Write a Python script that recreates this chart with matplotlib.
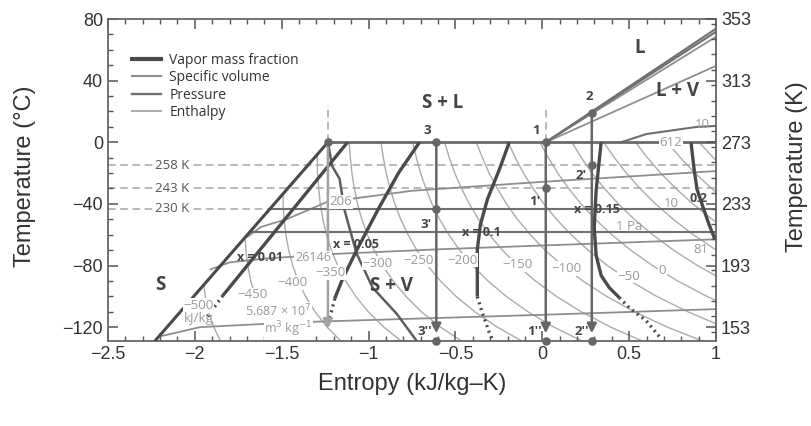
import matplotlib
matplotlib.use("Agg")
import matplotlib.pyplot as plt
from matplotlib.lines import Line2D
from matplotlib.ticker import MultipleLocator

# ---------------- data (entropy s in kJ/kg-K, temperature T in deg C) ----------------
# solid / solid+vapour boundary (x = 0)
bound_s = [-2.23, -1.234]
bound_T = [-129.0, 0.0]

# vapour mass fraction lines: solid part and dotted extension
x01_s = [-1.121, -1.839];               x01_T = [0.0, -99.5]
x01_dot_s = [-1.839, -1.94];            x01_dot_T = [-99.5, -115.0]
x05_s = [-0.707, -0.828, -0.948, -1.069, -1.149, -1.195]
x05_T = [0.0, -20.0, -44.2, -70.2, -88.5, -101.5]
x05_dot_s = [-1.195, -1.214, -1.236];   x05_dot_T = [-101.5, -110.0, -116.0]
x10_s = [-0.190, -0.247, -0.316, -0.356, -0.374, -0.374]
x10_T = [0.0, -17.6, -37.1, -53.3, -69.6, -100.2]
x10_dot_s = [-0.374, -0.351, -0.305, -0.287]; x10_dot_T = [-100.2, -108.7, -123.6, -128.0]
x15_s = [0.339, 0.310, 0.299, 0.310, 0.339, 0.385, 0.443]
x15_T = [0.0, -31.2, -55.3, -73.5, -86.5, -94.3, -100.8]
x15_dot_s = [0.443, 0.500, 0.598, 0.684]; x15_dot_T = [-100.8, -107.3, -115.8, -127.5]
x20_s = [0.856, 0.874, 0.891, 0.920, 0.960, 0.994]
x20_T = [0.0, -17.6, -30.6, -40.4, -53.4, -63.1]

# curve leaving the triple-point solid state
solid_curve_s = [-1.234, -1.21, -1.167, -1.138, -1.069, -0.977, -0.839, -0.724]
solid_curve_T = [0.0, -15.4, -23.7, -44.2, -72.2, -94.3, -111.2, -128.8]

# liquid / liquid+vapour lines from state 1
liq_a_s = [0.02, 1.0]; liq_a_T = [0.0, 73.7]
liq_b_s = [0.02, 1.0]; liq_b_T = [0.0, 71.7]
liq_c_s = [0.02, 1.0]; liq_c_T = [0.0, 68.5]
liq_d_s = [0.02, 1.0]; liq_d_T = [0.0, 49.6]
lv10_s = [0.454, 0.598, 0.885, 1.0]; lv10_T = [0.0, 5.3, 9.9, 10.6]

# pressure lines (isotherms in the two-phase regions)
p612_s = [-1.234, 1.0]; p612_T = [0.0, 0.0]
p10_s = [-1.57, 1.0];   p10_T = [-43.5, -43.5]
p1_s = [-1.685, 1.0];   p1_T = [-58.5, -58.5]

# specific volume lines
v206_s = [-1.70, -1.62, -1.47, -1.24, -0.75, 0.0, 1.0]
v206_T = [-61.6, -55.0, -49.9, -38.8, -31.5, -25.7, -18.7]
v26146_s = [-1.91, -1.80, -1.60, -1.20, -0.60, 0.0, 1.0]
v26146_T = [-82.5, -78.0, -75.5, -72.5, -69.5, -67.0, -63.0]
v5687_s = [-2.20, -1.97, -1.40, -0.82, 0.0, 1.0]
v5687_T = [-126.0, -120.0, -116.8, -114.8, -112.0, -108.3]

# enthalpy lines (kJ/kg)
T_full = [0, -10, -20, -30, -40, -50, -60, -70, -80, -90, -100, -110, -120, -129]
enth_T = {
    -500: [-93, -100, -110, -120, -129],
    -450: [-62, -70, -80, -90, -100, -110, -120, -129],
    -400: [-34, -40, -50, -60, -70, -80, -90, -100, -110, -120, -129],
    -350: [-8, -10, -20, -30, -40, -50, -60, -70, -80, -90, -100, -110, -120, -129],
    -300: T_full, -250: T_full, -200: T_full, -150: T_full, -100: T_full,
    -50: T_full[:13], 0: T_full[:12], 50: T_full[:10], 100: T_full[:8],
    150: T_full[:7], 200: T_full[:5], 250: T_full[:3],
}
enth_s = {
    -500: [-1.948, -1.940, -1.921, -1.891, -1.853],
    -450: [-1.711, -1.706, -1.696, -1.678, -1.652, -1.615, -1.565, -1.506],
    -400: [-1.492, -1.492, -1.487, -1.476, -1.460, -1.437, -1.405, -1.363, -1.308, -1.239, -1.159],
    -350: [-1.295, -1.295, -1.294, -1.287, -1.278, -1.263, -1.242, -1.214, -1.178, -1.132, -1.074, -1.002, -0.912, -0.812],
    -300: [-1.112, -1.105, -1.096, -1.082, -1.064, -1.039, -1.007, -0.968, -0.919, -0.859, -0.785, -0.696, -0.586, -0.465],
    -250: [-0.929, -0.915, -0.899, -0.876, -0.849, -0.815, -0.773, -0.722, -0.661, -0.586, -0.497, -0.389, -0.259, -0.118],
    -200: [-0.746, -0.725, -0.701, -0.670, -0.635, -0.591, -0.538, -0.476, -0.402, -0.313, -0.208, -0.083, 0.067, 0.229],
    -150: [-0.563, -0.535, -0.504, -0.465, -0.420, -0.367, -0.304, -0.230, -0.143, -0.040, 0.081, 0.224, 0.394, 0.575],
    -100: [-0.380, -0.345, -0.306, -0.259, -0.206, -0.143, -0.069, 0.016, 0.116, 0.233, 0.370, 0.530, 0.720, 0.922],
    -50: [-0.197, -0.155, -0.109, -0.053, 0.009, 0.082, 0.166, 0.263, 0.375, 0.506, 0.658, 0.837, 1.047],
    0: [-0.014, 0.035, 0.089, 0.152, 0.223, 0.306, 0.400, 0.509, 0.634, 0.779, 0.947, 1.143],
    50: [0.170, 0.225, 0.286, 0.358, 0.438, 0.530, 0.635, 0.755, 0.893, 1.052],
    100: [0.353, 0.415, 0.484, 0.563, 0.652, 0.754, 0.869, 1.001],
    150: [0.536, 0.605, 0.681, 0.769, 0.867, 0.978, 1.104],
    200: [0.719, 0.795, 0.879, 0.975, 1.081],
    250: [0.902, 0.985, 1.076],
}
enth_label_pos = {  # (s, T) of the value labels
    -500: (-1.98, -106), -450: (-1.67, -99), -400: (-1.44, -91), -350: (-1.22, -84.5),
    -300: (-0.95, -78.5), -250: (-0.71, -76.5), -200: (-0.46, -76.5), -150: (-0.14, -79.5),
    -100: (0.137, -82), -50: (0.50, -87), 0: (0.69, -83),
}

# process states
s_melt = -1.234
s3, s1, s2 = -0.61, 0.02, 0.285
T3_top, T1_top, T2_top = 0.0, 0.0, 19.0
iso_K = [258, 243, 230]
T_prime = {"1": 243, "2": 258, "3": 230}
T_bottom = -129.0
T_arrow = -124.0

xlim = (-2.5, 1.0)
ylim = (-129.0, 80.0)

# ---------------- styling ----------------
C_VAP = "#4a4a4a"
C_PRES = "#6f6f6f"
C_VOL = "#8e8e8e"
C_ENTH = "#ababab"
C_TXT = "#444444"
C_LBL = "#9a9a9a"
FONT_IN = ["Open Sans", "DejaVu Sans"]
FONT_AX = ["Liberation Sans", "DejaVu Sans"]

fig = plt.figure(figsize=(8.12, 4.26), dpi=100)
ax = fig.add_axes([108 / 812, 85 / 426, 608 / 812, 322 / 426])
ax.set_xlim(*xlim)
ax.set_ylim(*ylim)

# enthalpy lines
for h, Ts in enth_T.items():
    ax.plot(enth_s[h], Ts, color=C_ENTH, lw=1.0, zorder=1)

# specific volume lines
for ss, tt in [(v206_s, v206_T), (v26146_s, v26146_T), (v5687_s, v5687_T),
               (liq_c_s, liq_c_T), (liq_d_s, liq_d_T)]:
    ax.plot(ss, tt, color=C_VOL, lw=1.3, zorder=2)

# pressure lines
for ss, tt in [(p10_s, p10_T), (p1_s, p1_T), (liq_a_s, liq_a_T), (liq_b_s, liq_b_T),
               (lv10_s, lv10_T)]:
    ax.plot(ss, tt, color=C_PRES, lw=1.5, zorder=2)
ax.plot(p612_s, p612_T, color="#6a6a6a", lw=2.0, zorder=4)

# dashed isotherms
for k in iso_K:
    ax.axhline(k - 273, color="#a5a5a5", lw=1.1, ls=(0, (5, 3)), zorder=1)
    ax.text(-2.13, k - 273, f"{k} K", ha="center", va="center", fontsize=9.5,
            color="#555555", family=FONT_IN, zorder=6,
            bbox=dict(boxstyle="square,pad=0.05", fc="white", ec="none"))

# dashed verticals above the melt and state-1 points
for sv in (s_melt, s1):
    ax.plot([sv, sv], [0, 24], color="#a5a5a5", lw=1.1, ls=(0, (5, 3)), zorder=1)

# curve from the solid triple point
ax.plot(solid_curve_s, solid_curve_T, color="#5e5e5e", lw=1.8, zorder=3)

# vapour fraction lines
ax.plot(bound_s, bound_T, color=C_VAP, lw=2.2, zorder=4)
for ss, tt in [(x01_s, x01_T), (x05_s, x05_T), (x10_s, x10_T), (x15_s, x15_T), (x20_s, x20_T)]:
    ax.plot(ss, tt, color=C_VAP, lw=2.4, zorder=4, solid_capstyle="butt")
for ss, tt in [(x01_dot_s, x01_dot_T), (x05_dot_s, x05_dot_T), (x10_dot_s, x10_dot_T),
               (x15_dot_s, x15_dot_T)]:
    ax.plot(ss, tt, color=C_VAP, lw=2.4, ls=(0, (0.6, 1.2)), zorder=4, dash_capstyle="butt")

# process lines with arrows
def drop(sv, t0, color, tip):
    ax.annotate("", xy=(sv, tip), xytext=(sv, t0),
                arrowprops=dict(arrowstyle="-|>", color=color, lw=1.8,
                                mutation_scale=14, shrinkA=0, shrinkB=0), zorder=5)

drop(s_melt, 0.0, "#a0a0a0", -121.0)
drop(s3, T3_top, "#666666", T_arrow)
drop(s1, T1_top, "#666666", T_arrow)
drop(s2, T2_top, "#666666", T_arrow)

pts_s = [s_melt, s3, s1, s2, s3, s1, s2, s3, s1, s2]
pts_T = [0.0, T3_top, T1_top, T2_top, T_prime["3"] - 273, T_prime["1"] - 273, T_prime["2"] - 273,
         T_bottom, T_bottom, T_bottom]
ax.scatter(pts_s, pts_T, s=38, color="#666666", zorder=7, clip_on=False, linewidths=0)

# state labels
lab_kw = dict(fontsize=9.5, fontweight="bold", color=C_TXT, family=FONT_IN, zorder=8,
              ha="center", va="center")
ax.text(-0.661, 7.4, "3", **lab_kw)
ax.text(-0.034, 7.4, "1", **lab_kw)
ax.text(0.270, 29.4, "2", **lab_kw)
ax.text(-0.667, -53.1, "3'", **lab_kw)
ax.text(-0.046, -38.2, "1'", **lab_kw)
ax.text(0.224, -21.3, "2'", **lab_kw)
ax.text(-0.678, -122.7, "3''", **lab_kw)
ax.text(-0.046, -122.7, "1''", **lab_kw)
ax.text(0.230, -122.7, "2''", **lab_kw)

# vapour fraction labels
xl_kw = dict(fontsize=9, fontweight="bold", color=C_TXT, family=FONT_IN, ha="center",
             va="center", zorder=8)
ax.text(-1.625, -74.9, "x = 0.01", **xl_kw)
ax.text(-1.07, -66.2, "x = 0.05", **xl_kw)
ax.text(-0.35, -58.5, "x = 0.1", **xl_kw)
ax.text(0.316, -43.4, "x = 0.15", **xl_kw)
ax.text(0.90, -36.5, "0.2", **xl_kw)

# region labels
rg_kw = dict(fontsize=13.5, fontweight="bold", color=C_TXT, family=FONT_IN, ha="center",
             va="center", zorder=8)
ax.text(-2.20, -92.4, "S", **rg_kw)
ax.text(-0.868, -93.5, "S + V", **rg_kw)
ax.text(-0.575, 25.2, "S + L", **rg_kw)
ax.text(0.563, 61.2, "L", **rg_kw)
ax.text(0.776, 33.4, "L + V", **rg_kw)

# line value labels
vl_kw = dict(fontsize=9.5, color=C_LBL, family=FONT_IN, ha="center", va="center", zorder=6)
box = dict(boxstyle="square,pad=0.05", fc="white", ec="none")
for h, (ls_, lt_) in enth_label_pos.items():
    txt = f"\u2212{abs(h)}" if h < 0 else f"{h}"
    ax.text(ls_, lt_, txt, bbox=box, **vl_kw)
ax.text(-1.98, -114.5, "kJ/kg", **vl_kw)
ax.text(-1.16, -38.6, "206", bbox=box, **vl_kw)
ax.text(-1.32, -74.9, "26146", fontsize=9, color=C_LBL, family=FONT_IN, ha="center",
        va="center", zorder=6, bbox=box)
ax.text(-1.52, -109.6, "5.687 \u00d7 10$^7$", fontsize=9, color=C_LBL, family=FONT_IN,
        ha="center", va="center", zorder=6, bbox=box)
ax.text(-1.46, -121.3, "m$^3$ kg$^{-1}$", fontsize=9, color=C_LBL, family=FONT_IN,
        ha="center", va="center", zorder=6, bbox=box)
ax.text(0.914, -69.4, "81", **vl_kw)
ax.text(0.741, 0.0, "612", bbox=box, **vl_kw)
ax.text(0.92, 11.2, "10", **vl_kw)
ax.text(0.741, -39.5, "10", **vl_kw)
ax.text(0.50, -54.5, "1 Pa", **vl_kw)

# legend
handles = [Line2D([], [], color=C_VAP, lw=3.0), Line2D([], [], color=C_VOL, lw=1.5),
           Line2D([], [], color=C_PRES, lw=1.7), Line2D([], [], color=C_ENTH, lw=1.4)]
labels = ["Vapor mass fraction", "Specific volume", "Pressure", "Enthalpy"]
leg = ax.legend(handles, labels, loc="upper left", bbox_to_anchor=(0.04, 0.895),
                frameon=False, borderpad=0, borderaxespad=0, handlelength=2.1,
                handletextpad=0.55, labelspacing=0.17,
                prop={"family": FONT_IN, "size": 10})
for t in leg.get_texts():
    t.set_color("#333333")

# axes cosmetics
for sp in ax.spines.values():
    sp.set_color("#666666")
    sp.set_linewidth(1.3)
ax.xaxis.set_minor_locator(MultipleLocator(0.1))
ax.yaxis.set_minor_locator(MultipleLocator(10))
ax.tick_params(which="both", direction="in", top=True, right=False, color="#555555",
               labelcolor="#333333", labelsize=13)
ax.tick_params(which="major", length=7, width=1.1)
ax.tick_params(which="minor", length=3.5, width=1.0)
ax.set_xticks([-2.5, -2, -1.5, -1, -0.5, 0, 0.5, 1])
ax.set_xticklabels(["\u22122.5", "\u22122", "\u22121.5", "\u22121", "\u22120.5", "0", "0.5", "1"])
ax.set_yticks([-120, -80, -40, 0, 40, 80])
ax.set_yticklabels(["\u2212120", "\u221280", "\u221240", "0", "40", "80"])
for lab in ax.get_xticklabels() + ax.get_yticklabels():
    lab.set_family(FONT_AX)

ax2 = ax.twinx()
ax2.set_ylim(ylim[0] + 273, ylim[1] + 273)
ax2.set_yticks([153, 193, 233, 273, 313, 353])
ax2.yaxis.set_minor_locator(MultipleLocator(10))
ax2.tick_params(which="both", direction="in", color="#555555", labelcolor="#333333",
                labelsize=13)
ax2.tick_params(which="major", length=7, width=1.1)
ax2.tick_params(which="minor", length=3.5, width=1.0)
for lab in ax2.get_yticklabels():
    lab.set_family(FONT_AX)
for sp in ax2.spines.values():
    sp.set_visible(False)

fig.text(25 / 812, 1 - 176 / 426, "Temperature (\u00b0C)", rotation=90, ha="center",
         va="center", fontsize=17, color="#333333", family=FONT_AX)
fig.text(797 / 812, 1 - 167 / 426, "Temperature (K)", rotation=90, ha="center",
         va="center", fontsize=17, color="#333333", family=FONT_AX)
fig.text(412 / 812, 1 - 384 / 426, "Entropy (kJ/kg\u2013K)", ha="center", va="center",
         fontsize=17, color="#333333", family=FONT_AX)

fig.savefig("out.png", dpi=100)
